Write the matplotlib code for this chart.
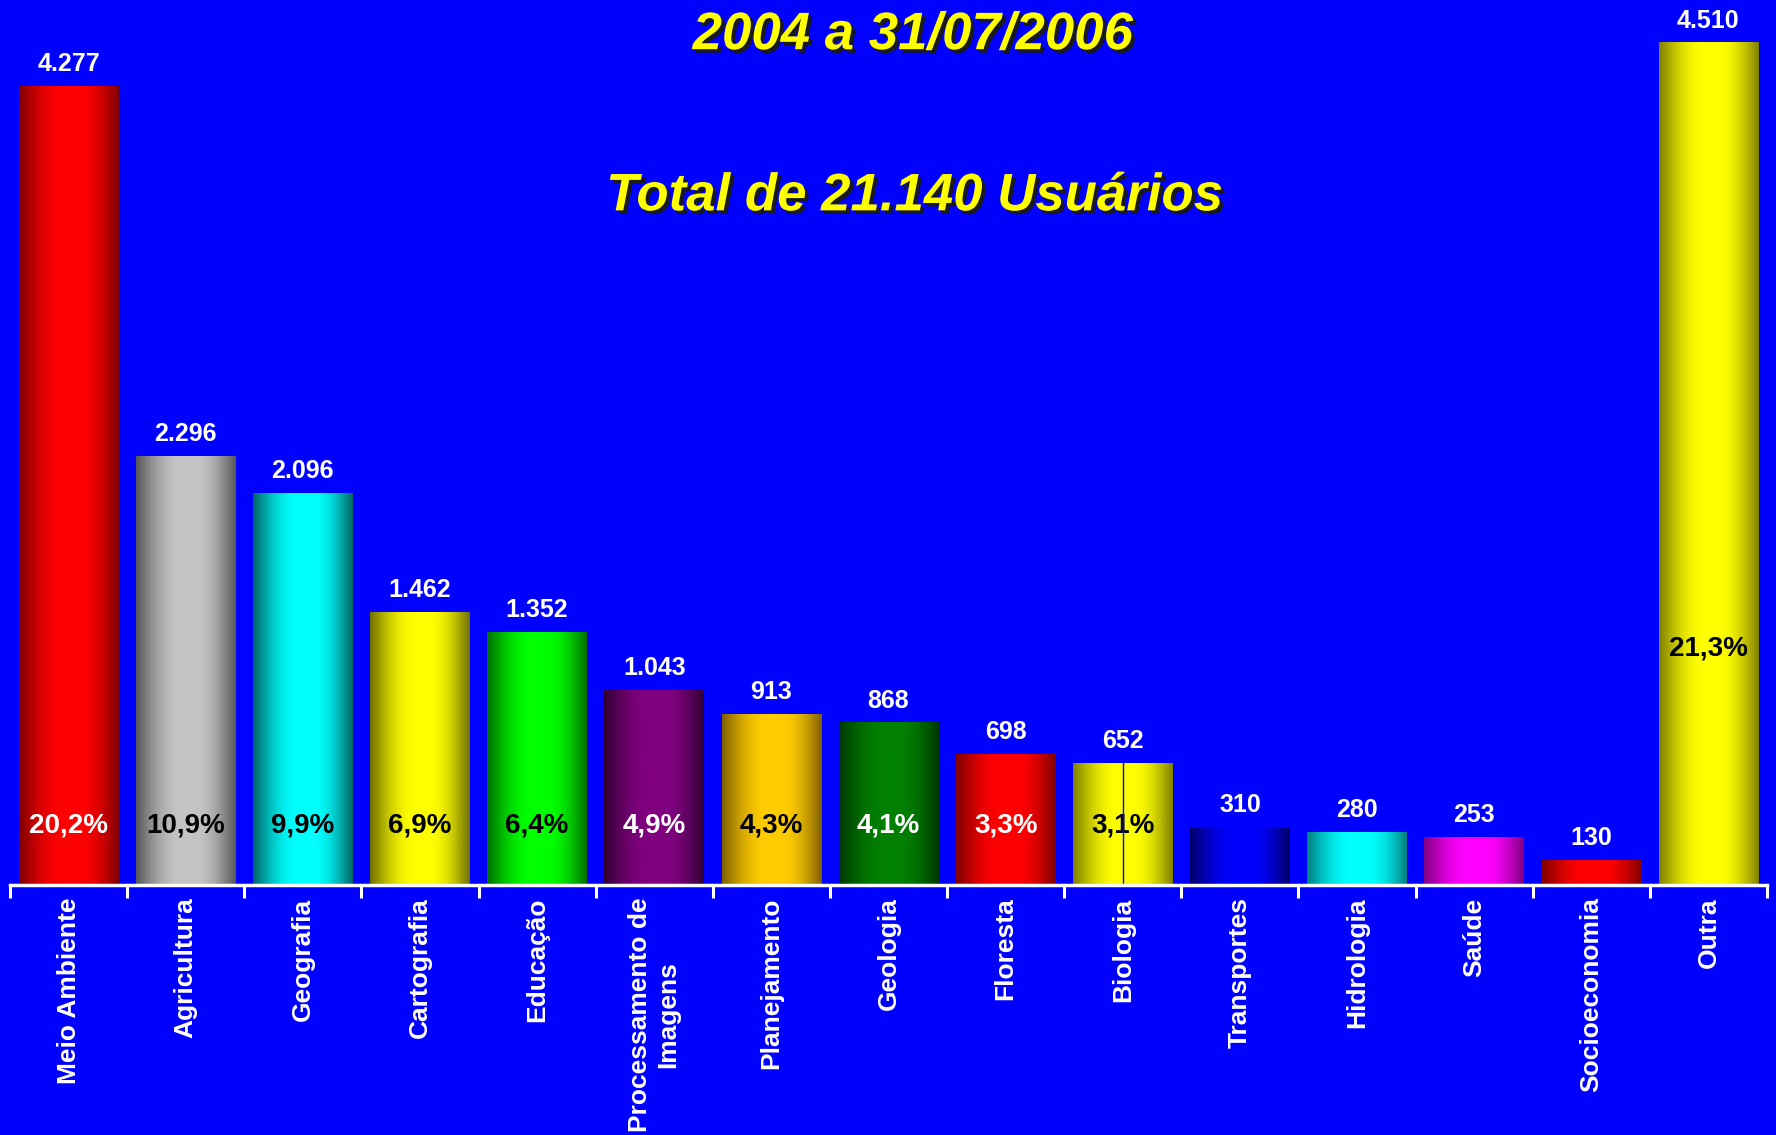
import matplotlib.pyplot as plt
import matplotlib.patheffects as pe
import numpy as np
from matplotlib.colors import to_rgb

areas = ["Meio Ambiente", "Agricultura", "Geografia", "Cartografia", "Educação",
         "Processamento de\nImagens", "Planejamento", "Geologia", "Floresta", "Biologia",
         "Transportes", "Hidrologia", "Saúde", "Socioeconomia", "Outra"]
usuarios = [4277, 2296, 2096, 1462, 1352, 1043, 913, 868, 698, 652, 310, 280, 253, 130, 4510]
percent = ["20,2%", "10,9%", "9,9%", "6,9%", "6,4%", "4,9%", "4,3%", "4,1%", "3,3%", "3,1%",
           "", "", "", "", "21,3%"]
pct_color = ["white", "black", "black", "black", "black", "white", "black", "white", "white",
             "black", "white", "white", "white", "white", "black"]
bright = ["#FF0000", "#C4C4C4", "#00FFFF", "#FFFF00", "#00FF00", "#800080", "#FFCC00", "#008000",
          "#FF0000", "#FFFF00", "#0000FF", "#00FFFF", "#FF00FF", "#FF0000", "#FFFF00"]
dark = ["#800000", "#585858", "#006464", "#707000", "#007000", "#300030", "#806000", "#003800",
        "#800000", "#808000", "#000066", "#008080", "#800080", "#800000", "#808000"]

BG = "#0000FF"
plt.rcParams['font.family'] = ['Liberation Sans', 'DejaVu Sans']

fig = plt.figure(figsize=(17.76, 11.35), dpi=100, facecolor=BG)
ax = fig.add_axes([10 / 1776, 250 / 1135, 1757 / 1776, 885 / 1135])
ax.set_facecolor(BG)

w = 0.85
pos = np.linspace(0, 1, 200)
# cylinder shading: dark edges, bright just right of centre
f = np.clip(np.where(pos < 0.5, pos / 0.45, (1 - pos) / 0.4), 0, 1)
f = np.sin(f * np.pi / 2)
for i, v in enumerate(usuarios):
    b = np.array(to_rgb(bright[i]))
    d = np.array(to_rgb(dark[i]))
    grad = d[None, :] + (b - d)[None, :] * f[:, None]
    ax.imshow(grad[None, :, :], extent=(i - w / 2, i + w / 2, 0, v), aspect='auto',
              interpolation='bilinear', zorder=2)
    ax.annotate(f"{v:,}".replace(",", "."), (i, v), xytext=(0, 11), textcoords='offset points',
                ha='center', va='baseline', color='white', fontsize=18, fontweight='bold')
    if percent[i]:
        py = 1230 if i == len(usuarios) - 1 else 0
        off = 0 if i == len(usuarios) - 1 else 38
        ax.annotate(percent[i], (i, py), xytext=(0, off), textcoords='offset points',
                    ha='center', va='baseline', color=pct_color[i], fontsize=20,
                    fontweight='bold')

# thin line through the Biologia bar
bi = areas.index("Biologia")
ax.plot([bi, bi], [0, usuarios[bi]], color=BG, lw=1, zorder=3)

ax.set_xlim(-0.5, len(areas) - 0.5)
ax.set_ylim(0, 4740)
for s in ['left', 'right', 'top']:
    ax.spines[s].set_visible(False)
ax.spines['bottom'].set_color('white')
ax.spines['bottom'].set_linewidth(2.5)
ax.spines['bottom'].set_zorder(5)
ax.set_yticks([])
ax.set_xticks(range(len(areas)))
ax.set_xticklabels(areas, rotation=90, va='top', ha='center', multialignment='center',
                   color='white', fontsize=19, fontweight='bold')
ax.set_xticks(np.arange(-0.5, len(areas)), minor=True)
ax.tick_params(axis='x', which='major', length=0, pad=9)
ax.tick_params(axis='x', which='minor', length=9, width=2.2, color='white', direction='out')

shadow = [pe.withSimplePatchShadow(offset=(2.5, -2.5), shadow_rgbFace='#1a1a1a', alpha=1)]
fig.text(0.514, 0.969, "2004 a 31/07/2006", ha='center', va='center', color='#FFFF00',
         fontsize=38, fontweight='bold', fontstyle='italic', path_effects=shadow)
fig.text(0.515, 0.827, "Total de 21.140 Usuários", ha='center', va='center', color='#FFFF00',
         fontsize=38, fontweight='bold', fontstyle='italic', path_effects=shadow)

fig.savefig("out.png", dpi=100, facecolor=BG)
